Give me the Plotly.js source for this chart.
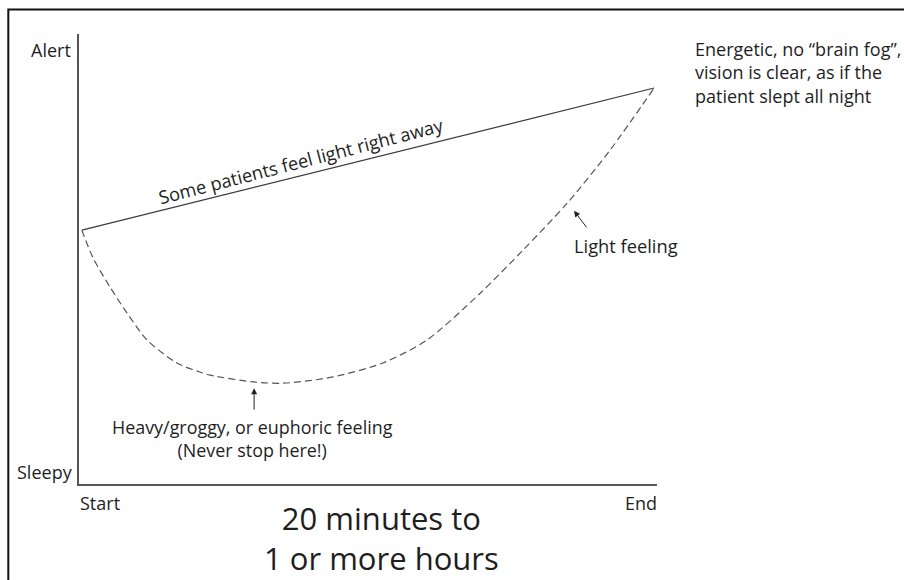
<!DOCTYPE html>
<html>
<head>
<meta charset="utf-8">
<script src="https://cdn.plot.ly/plotly-3.0.1.min.js"></script>
<style>
html,body{margin:0;padding:0;background:#fff;}
#chart{width:904px;height:580px;}
</style>
</head>
<body>
<div id="chart"></div>
<script>
// Time progress (0 = Start, 100 = End) and alertness (0 = Sleepy, 100 = Alert)
var curveTime = [0, 1.9, 4.9, 7.9, 11.4, 16.6, 20.6, 22.4, 29.9, 35.1, 43.9, 52.6, 60.3, 69.6, 77.1, 84.8, 92.3, 100];
var curveAlert = [56.4, 50.4, 43.8, 38.0, 32.0, 26.9, 24.9, 24.2, 22.7, 22.4, 23.8, 26.9, 32.0, 42.4, 52.0, 62.4, 74.2, 88];
var directTime = [0, 100];
var directAlert = [56.4, 88];

var xLabels = ["Start", "End"];
var yLabels = ["Alert", "Sleepy"];
var chartTitle = "20 minutes to<br>1 or more hours";
var directLabel = "Some patients feel light right away";
var lowLabel = "Heavy/groggy, or euphoric feeling<br>(Never stop here!)";
var riseLabel = "Light feeling";
var endLabel = "Energetic, no “brain fog”,<br>vision is clear, as if the<br>patient slept all night";

var FONT = "Open Sans";
var TXT = "#1e1e1e";

var traces = [
  {x: directTime, y: directAlert, mode: "lines", line: {color: "#3a3a3a", width: 1.2}, hoverinfo: "skip"},
  {x: curveTime, y: curveAlert, mode: "lines", line: {color: "#555", width: 1.2, dash: "7px,4px", shape: "spline", smoothing: 0.8}, hoverinfo: "skip"}
];

var ann = [];
function t(o){ o.showarrow = false; o.font = Object.assign({family: FONT, size: 18.3, color: TXT}, o.font || {}); ann.push(o); }
t({text: yLabels[0], xref: "paper", yref: "paper", x: -0.01, y: 0.9644, xanchor: "right", yanchor: "middle", font: {size: 18}});
t({text: yLabels[1], xref: "paper", yref: "paper", x: -0.007, y: 0.0267, xanchor: "right", yanchor: "middle", font: {size: 18}});
t({text: xLabels[0], xref: "paper", yref: "paper", x: -0.002, y: -0.042, xanchor: "left", yanchor: "middle", font: {size: 18}});
t({text: xLabels[1], xref: "paper", yref: "paper", x: 1.0035, y: -0.042, xanchor: "right", yanchor: "middle", font: {size: 18}});
t({text: chartTitle, xref: "paper", yref: "paper", x: 0.5225, y: -0.119, xanchor: "center", yanchor: "middle", font: {size: 31}});
t({text: directLabel, xref: "x", yref: "y", x: 38.3, y: 72, xanchor: "center", yanchor: "middle", textangle: -14.5});
t({text: lowLabel, xref: "x", yref: "y", x: 29.9, y: 10.2, xanchor: "center", yanchor: "middle", align: "center", font: {size: 17.9}});
t({text: riseLabel, xref: "x", yref: "y", x: 85.6, y: 53.1, xanchor: "left", yanchor: "middle"});
t({text: endLabel, xref: "paper", yref: "paper", x: 1.0623, y: 0.9144, xanchor: "left", yanchor: "middle", align: "left", font: {size: 18}});

function arrow(hx, hy, tx, ty){
  ann.push({x: hx, y: hy, ax: tx, ay: ty, xref: "x", yref: "y", axref: "x", ayref: "y", text: "", showarrow: true, arrowhead: 2, arrowsize: 1.2, arrowwidth: 1, arrowcolor: "#222"});
}
arrow(102.1, 89.8, 105.4, 92.9);
arrow(86.0, 60.7, 88.4, 56.7);
arrow(30.1, 21.3, 30.1, 16.2);

var layout = {
  width: 904, height: 580,
  margin: {l: 79, r: 247, t: 34, b: 96},
  paper_bgcolor: "#fff", plot_bgcolor: "#fff",
  showlegend: false,
  xaxis: {range: [-0.5, 100.5], showline: true, linecolor: "#555", linewidth: 2, showgrid: false, zeroline: false, showticklabels: false, ticks: "", fixedrange: true},
  yaxis: {range: [0, 100], showline: true, linecolor: "#555", linewidth: 2, showgrid: false, zeroline: false, showticklabels: false, ticks: "", fixedrange: true},
  annotations: ann,
  shapes: [{type: "rect", xref: "paper", yref: "paper", x0: -0.1223, x1: 1.432, y0: -0.236, y1: 1.0544, line: {color: "#111", width: 2}}]
};

Plotly.newPlot("chart", traces, layout, {displayModeBar: false, staticPlot: true});
</script>
</body>
</html>
